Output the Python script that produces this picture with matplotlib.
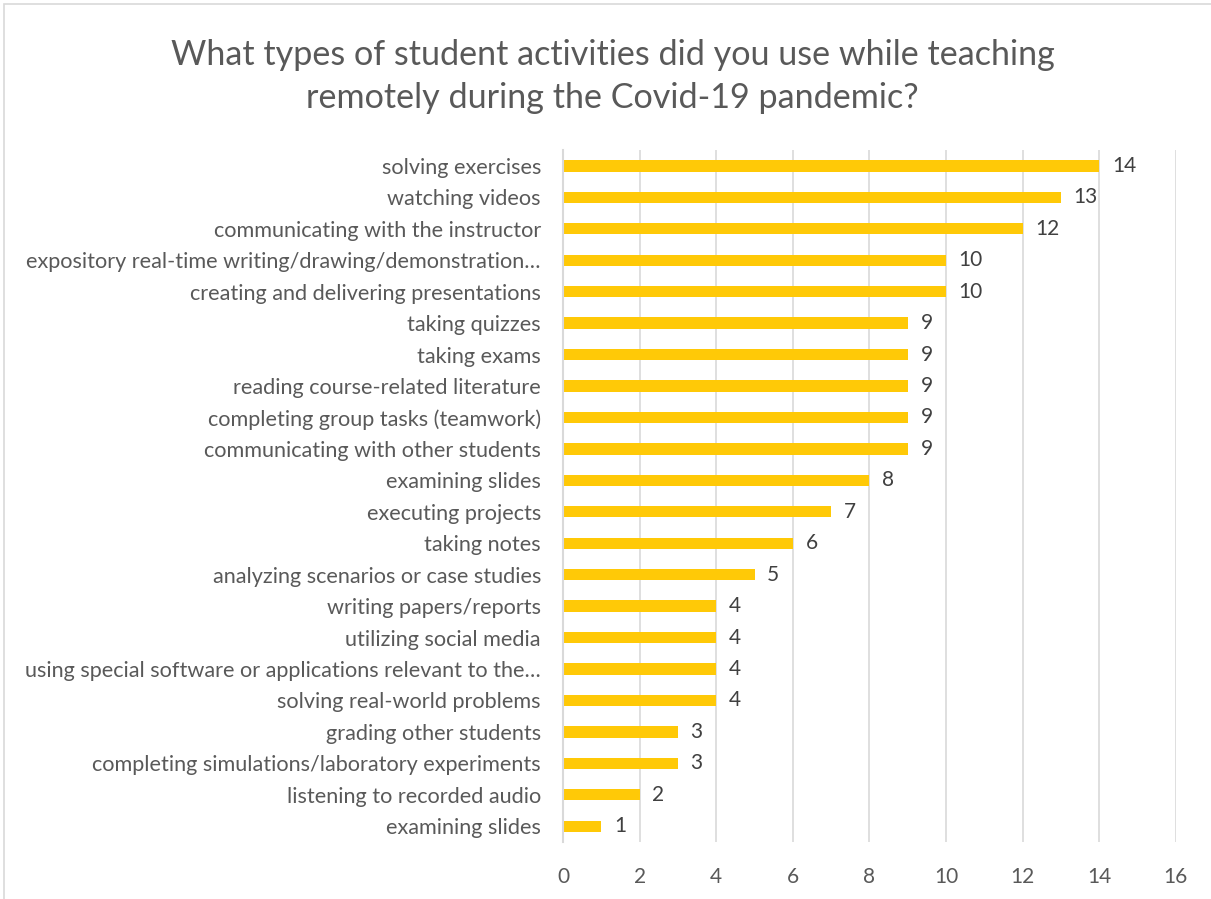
import matplotlib.pyplot as plt
from matplotlib.patches import Rectangle

activities = [
    "solving exercises",
    "watching videos",
    "communicating with the instructor",
    "expository real-time writing/drawing/demonstration…",
    "creating and delivering presentations",
    "taking quizzes",
    "taking exams",
    "reading course-related literature",
    "completing group tasks (teamwork)",
    "communicating with other students",
    "examining slides",
    "executing projects",
    "taking notes",
    "analyzing scenarios or case studies",
    "writing papers/reports",
    "utilizing social media",
    "using special software or applications relevant to the…",
    "solving real-world problems",
    "grading other students",
    "completing simulations/laboratory experiments",
    "listening to recorded audio",
    "examining slides",
]
counts = [14, 13, 12, 10, 10, 9, 9, 9, 9, 9, 8, 7, 6, 5, 4, 4, 4, 4, 3, 3, 2, 1]
xticks = [0, 2, 4, 6, 8, 10, 12, 14, 16]

plt.rcParams['font.family'] = ['Lato', 'DejaVu Sans']

fig = plt.figure(figsize=(12.11, 8.99), dpi=100)
ax = fig.add_axes([0.465, 0.0634, 0.506, 0.7696])

pos = list(range(len(activities)))
ax.barh(pos, counts, height=0.36, color='#FFC907', zorder=3)
for y, v in zip(pos, counts):
    ax.text(v + 0.33, y, str(v), va='center', ha='left',
            fontsize=15, color='#404040')

ax.set_ylim(len(activities) - 0.5, -0.5)
ax.set_xlim(0, 16)
ax.set_xticks(xticks)
ax.set_yticks(pos)
ax.set_yticklabels(activities)
ax.tick_params(axis='y', length=0, pad=16, labelsize=15.6, labelcolor='#595959')
ax.tick_params(axis='x', length=0, pad=18, labelsize=15, labelcolor='#595959')
ax.grid(axis='x', color='#D9D9D9', linewidth=1.2, zorder=0)
for s in ['top', 'right', 'bottom']:
    ax.spines[s].set_visible(False)
ax.spines['left'].set_color('#D9D9D9')
ax.spines['left'].set_linewidth(1.5)
ax.spines['left'].set_zorder(4)

fig.text(0.506, 0.915,
         "What types of student activities did you use while teaching\n"
         "remotely during the Covid-19 pandemic?",
         ha='center', va='center', fontsize=24.6, color='#595959',
         linespacing=1.42)

# chart frame
fig.patches.append(Rectangle((4 / 1211, -0.05), 1.1, 1 - 4 / 899 + 0.05,
                             transform=fig.transFigure, fill=False,
                             edgecolor='#D9D9D9', linewidth=1.2))

fig.savefig('out.png', dpi=100)
